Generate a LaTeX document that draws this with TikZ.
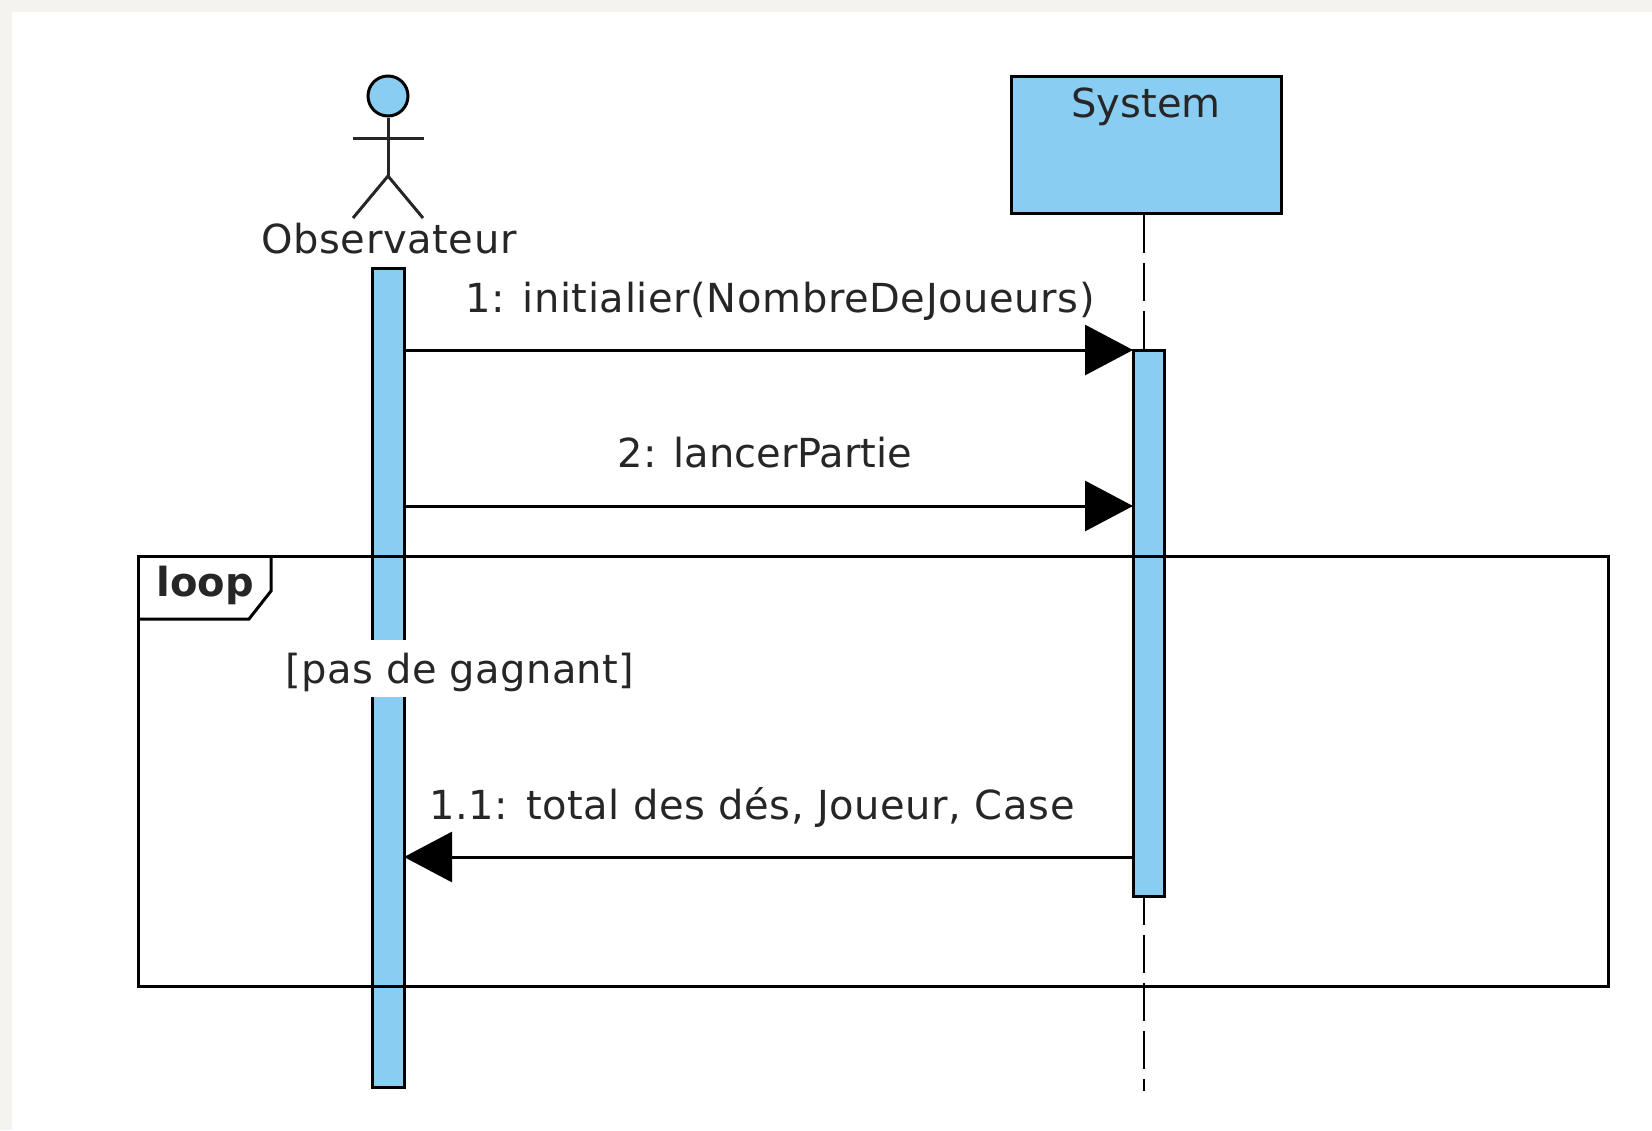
\documentclass[tikz,border=0pt]{standalone}
\usepackage{fontspec}
\setmainfont{DejaVu Sans}
\usetikzlibrary{arrows.meta,positioning}

\definecolor{lifeblue}{HTML}{89CDF3}
\definecolor{pagegrey}{HTML}{F5F3EF}
\definecolor{inkgrey}{HTML}{262626}

\newfontfamily\widefont[LetterSpace=1.5]{DejaVu Sans}
\newfontfamily\midfont[LetterSpace=1]{DejaVu Sans}

\tikzset{
  bar/.style={draw=black, line width=3pt, fill=lifeblue, minimum width=30pt, inner sep=0pt, anchor=north},
  lbl/.style={inner sep=0pt, text=inkgrey, anchor=base, font=\fontsize{40}{46}\selectfont},
  msg/.style={line width=3pt, -{Triangle[length=48pt,width=50pt]}},
  limb/.style={line width=3pt, draw=inkgrey},
  lifeline/.style={line width=2.5pt, dash pattern=on 38pt off 10pt}
}

\begin{document}
\begin{tikzpicture}[x=1pt, y=-1pt]

    \useasboundingbox (0,0) rectangle (1652,1130);
    \fill[pagegrey] (0,0) rectangle (1652,1130);
    \fill[white] (12,12) rectangle (1652,1130);

    % system
    \node[draw=black, line width=3pt, fill=lifeblue, minimum width=270pt, minimum height=137pt, inner sep=0pt] (sys) at (1146.5,145) {};
    \node[lbl] (systxt) at (1146,117) {System};
    \coordinate (sysend) at (1144,1091);
    \draw[lifeline] (sys.south -| sysend) -- (sysend);

    % bars
    \node[bar, minimum width=32pt, minimum height=819pt] (obsbar) at (388.5,267) {};
    \node[bar, minimum width=31pt, minimum height=546pt] (sysbar) at (1148.5,349) {};

    % actor
    \node[draw=black, line width=3pt, fill=lifeblue, circle, minimum size=40pt, inner sep=0pt] (head) at (388,96) {};
    \coordinate (hip) at (388,176);
    \coordinate[left=35pt of hip, yshift=-42pt] (lleg);
    \coordinate[right=35pt of hip, yshift=-42pt] (rleg);
    \coordinate (larm) at (353,138);
    \coordinate (rarm) at (424,138);
    \draw[limb] (head) -- (hip);
    \draw[limb] (larm) -- (rarm);
    \draw[limb] (lleg) -- (hip) -- (rleg);
    \node[lbl] (obstxt) at (389,253) {\widefont Observateur};

    % loop frame
    \node[draw=black, line width=3pt, minimum width=1470pt, minimum height=430pt, inner sep=0pt, anchor=north west] (frame) at (137,555) {};
    \coordinate (tabtop) at (271,555);
    \coordinate (tableft) at (137,619);
    \draw[line width=3pt] (tabtop) -- (271,591) -- (249,619) -- (tableft);
    \node[lbl] (looptxt) at (205,596) {\bfseries loop};
    \node[inner sep=0pt, fill=white, minimum width=347pt, minimum height=57pt] (guardbg) at (460,668.5) {};
    \node[lbl] (guard) at (460,683) {\midfont [pas de gagnant]};

    % messages
    \coordinate (m1a) at (405,350);
    \coordinate (m1b) at (1133,350);
    \coordinate (m2a) at (405,506);
    \coordinate (m2b) at (1133,506);
    \coordinate (m3a) at (1133,857);
    \coordinate (m3b) at (404,857);
    \draw[msg] (m1a) -- (m1b);
    \draw[msg] (m2a) -- (m2b);
    \draw[msg] (m3a) -- (m3b);
    \node[lbl] (m1txt) at (780,312) {\widefont 1: initialier(NombreDeJoueurs)};
    \node[lbl] (m2txt) at (765,467) {2: lancerPartie};
    \node[lbl] (m3txt) at (752,819) {\widefont 1.1: total des dés, Joueur, Case};

\end{tikzpicture}
\end{document}
